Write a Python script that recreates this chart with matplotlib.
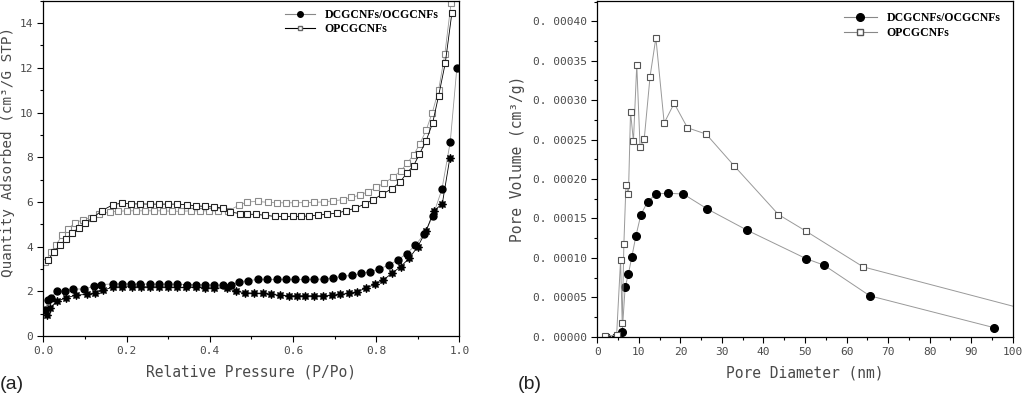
import matplotlib
matplotlib.use("Agg")
from matplotlib import pyplot as plt
from matplotlib.lines import Line2D
from matplotlib.ticker import MultipleLocator, FuncFormatter

# ---- (a) N2 isotherms ----
dc_ads_x = [0.004, 0.012, 0.018, 0.032, 0.052, 0.072, 0.098, 0.122, 0.139, 0.168, 0.188, 0.211,
            0.233, 0.256, 0.278, 0.3, 0.322, 0.345, 0.367, 0.389, 0.411, 0.433, 0.45, 0.471,
            0.493, 0.517, 0.538, 0.561, 0.583, 0.606, 0.629, 0.651, 0.674, 0.697, 0.719,
            0.741, 0.764, 0.786, 0.808, 0.83, 0.852, 0.873, 0.894, 0.916, 0.936, 0.958,
            0.978, 0.994]
dc_ads_y = [1.16, 1.6, 1.7, 2.0, 2.0, 2.1, 2.1, 2.23, 2.3, 2.33, 2.33, 2.33,
            2.33, 2.32, 2.32, 2.32, 2.31, 2.3, 2.3, 2.29, 2.28, 2.27, 2.26, 2.42,
            2.48, 2.53, 2.53, 2.53, 2.53, 2.53, 2.53, 2.53, 2.55, 2.6, 2.67,
            2.71, 2.8, 2.88, 3.0, 3.17, 3.4, 3.68, 4.06, 4.57, 5.35, 6.56,
            8.67, 12.0]

dc_des_x = [0.008, 0.017, 0.032, 0.054, 0.079, 0.106, 0.124, 0.144, 0.168, 0.19, 0.212, 0.234,
            0.256, 0.278, 0.3, 0.322, 0.344, 0.366, 0.388, 0.41, 0.441, 0.463, 0.485,
            0.506, 0.527, 0.548, 0.569, 0.59, 0.61, 0.63, 0.65, 0.672, 0.693, 0.714,
            0.735, 0.755, 0.776, 0.797, 0.817, 0.838, 0.859, 0.88, 0.9, 0.92, 0.939,
            0.959, 0.977]
dc_des_y = [0.93, 1.27, 1.55, 1.7, 1.83, 1.86, 1.92, 2.04, 2.2, 2.2, 2.2, 2.2,
            2.2, 2.2, 2.19, 2.18, 2.17, 2.17, 2.16, 2.15, 2.14, 1.99, 1.94,
            1.91, 1.91, 1.86, 1.82, 1.8, 1.8, 1.8, 1.8, 1.8, 1.82, 1.86,
            1.91, 1.98, 2.15, 2.31, 2.5, 2.81, 3.1, 3.49, 4.0, 4.7, 5.6,
            5.92, 7.95]

op_ads_x = [0.005, 0.018, 0.03, 0.045, 0.06, 0.075, 0.095, 0.115, 0.135, 0.16, 0.18, 0.2,
            0.222, 0.244, 0.266, 0.288, 0.31, 0.332, 0.354, 0.376, 0.398, 0.42, 0.445,
            0.47, 0.49, 0.515, 0.54, 0.562, 0.584, 0.606, 0.628, 0.65, 0.675, 0.697,
            0.72, 0.74, 0.76, 0.78, 0.8, 0.82, 0.84, 0.86, 0.875, 0.89, 0.905, 0.92,
            0.935, 0.95, 0.965, 0.98]
op_ads_y = [3.3, 3.75, 4.05, 4.5, 4.8, 5.05, 5.2, 5.3, 5.45, 5.55, 5.58, 5.6,
            5.6, 5.6, 5.6, 5.6, 5.58, 5.58, 5.6, 5.6, 5.6, 5.58, 5.6,
            5.85, 6.0, 6.02, 5.98, 5.96, 5.96, 5.96, 5.97, 5.98, 6.0, 6.05,
            6.1, 6.2, 6.3, 6.45, 6.65, 6.85, 7.1, 7.4, 7.75, 8.1, 8.6, 9.2,
            10.0, 11.0, 12.6, 14.9]

op_des_x = [0.012, 0.025, 0.04, 0.055, 0.07, 0.085, 0.1, 0.12, 0.14, 0.168, 0.188, 0.211,
            0.233, 0.256, 0.278, 0.3, 0.322, 0.345, 0.367, 0.389, 0.411, 0.433, 0.448,
            0.472, 0.49, 0.512, 0.534, 0.556, 0.578, 0.6, 0.62, 0.638, 0.66, 0.683,
            0.705, 0.728, 0.75, 0.772, 0.793, 0.815, 0.837, 0.857, 0.873, 0.89, 0.904,
            0.92, 0.936, 0.95, 0.966, 0.982]
op_des_y = [3.4, 3.75, 4.05, 4.35, 4.6, 4.85, 5.05, 5.3, 5.6, 5.88, 5.94, 5.91,
            5.91, 5.9, 5.9, 5.9, 5.9, 5.87, 5.82, 5.8, 5.77, 5.72, 5.55,
            5.48, 5.45, 5.44, 5.4, 5.35, 5.35, 5.35, 5.35, 5.37, 5.41, 5.45,
            5.5, 5.6, 5.72, 5.9, 6.1, 6.35, 6.58, 6.87, 7.28, 7.62, 8.14,
            8.73, 9.55, 10.74, 12.2, 14.45]

# ---- (b) pore size distribution ----
dc_d = [2.0, 4.6, 6.0, 6.7, 7.5, 8.3, 9.3, 10.5, 12.1, 14.1, 16.9, 20.7, 26.5, 36.1,
        50.2, 54.6, 65.6, 95.6]
dc_v = [0.0, 0.0, 0.0000063, 0.0000625, 0.00008, 0.000101, 0.000128, 0.000155, 0.000171,
        0.000181, 0.000182, 0.000181, 0.000162, 0.000135, 0.0000992, 0.0000907,
        0.0000519, 0.0000114]

op_d = [1.85, 4.65, 5.6, 6.0, 6.4, 6.9, 7.5, 8.0, 8.7, 9.5, 10.3, 11.3, 12.7, 14.1,
        16.1, 18.5, 21.7, 26.2, 32.9, 43.6, 50.2, 64.0, 110.0]
op_v = [0.0000008, 0.000002, 0.000097, 0.000017, 0.000118, 0.000193, 0.000181, 0.000285,
        0.000248, 0.000345, 0.00024, 0.000251, 0.00033, 0.000379, 0.000271, 0.000296,
        0.000265, 0.000257, 0.000217, 0.000155, 0.000134, 0.0000886, 0.000025]

mono = "DejaVu Sans Mono"
txt_col = "#4a4a4a"
leg_font = {"family": "Liberation Serif", "weight": "bold", "size": 8.5}

fig = plt.figure(figsize=(10.24, 3.99), dpi=100)
ax1 = fig.add_axes([0.0423, 0.158, 0.4063, 0.84])
ax2 = fig.add_axes([0.5833, 0.156, 0.4057, 0.842])

# panel a
ax1.plot(dc_ads_x, dc_ads_y, color="#999999", lw=0.6, marker="o", ms=5,
         mfc="black", mec="black")
ax1.plot(dc_des_x, dc_des_y, color="black", lw=0.6, marker=(8, 1, 0), ms=6,
         mfc="black", mec="black", mew=0.8)
ax1.plot(op_ads_x, op_ads_y, color="#999999", lw=0.6, marker="s", ms=4.7,
         mfc="white", mec="#8a8a8a", mew=0.8)
ax1.plot(op_des_x, op_des_y, color="black", lw=0.6, marker="s", ms=4.7,
         mfc="white", mec="#222222", mew=0.8)
ax1.set_xlim(0, 1.0)
ax1.set_ylim(0, 15)
ax1.xaxis.set_major_locator(MultipleLocator(0.2))
ax1.xaxis.set_minor_locator(MultipleLocator(0.1))
ax1.yaxis.set_major_locator(MultipleLocator(2))
ax1.yaxis.set_minor_locator(MultipleLocator(1))
ax1.xaxis.set_major_formatter(FuncFormatter(lambda v, p: f"{v:.1f}"))
ax1.set_xlabel("Relative Pressure (P/Po)", family=mono, fontsize=10.5,
               color=txt_col, labelpad=6)
ax1.set_ylabel("Quantity Adsorbed (cm³/G STP)", family=mono, fontsize=10.3,
               color=txt_col)
ax1.yaxis.set_label_coords(-0.068, 0.55)
h1 = [Line2D([], [], color="#888888", lw=0.8, marker="o", ms=4, mfc="black", mec="black"),
      Line2D([], [], color="black", lw=0.8, marker="s", ms=3.5, mfc="white", mec="#666666")]
ax1.legend(h1, ["DCGCNFs/OCGCNFs", "OPCGCNFs"], loc="upper right", frameon=False,
           prop=leg_font, handlelength=2.6, borderaxespad=0.3, labelspacing=0.2,
           bbox_to_anchor=(0.97, 1.0))

# panel b
ax2.plot(dc_d, dc_v, color="#999999", lw=0.7, marker="o", ms=5.5,
         mfc="black", mec="black")
ax2.plot(op_d, op_v, color="#999999", lw=0.7, marker="s", ms=5,
         mfc="white", mec="#555555", mew=0.8)
ax2.set_xlim(0, 100)
ax2.set_ylim(0, 0.000426)
ax2.xaxis.set_major_locator(MultipleLocator(10))
ax2.xaxis.set_minor_locator(MultipleLocator(5))
ax2.yaxis.set_major_locator(MultipleLocator(0.00005))
ax2.yaxis.set_minor_locator(MultipleLocator(0.000025))
ax2.yaxis.set_major_formatter(FuncFormatter(lambda v, p: f"{v:.5f}".replace(".", ". ")))
ax2.set_xlabel("Pore Diameter (nm)", family=mono, fontsize=10.5,
               color=txt_col, labelpad=6)
ax2.set_ylabel("Pore Volume (cm³/g)", family=mono, fontsize=10.5,
               color=txt_col)
ax2.yaxis.set_label_coords(-0.175, 0.53)
h2 = [Line2D([], [], color="#888888", lw=0.8, marker="o", ms=5.5, mfc="black", mec="black"),
      Line2D([], [], color="#888888", lw=0.8, marker="s", ms=5, mfc="white", mec="#555555")]
ax2.legend(h2, ["DCGCNFs/OCGCNFs", "OPCGCNFs"], loc="upper right", frameon=False,
           prop=leg_font, handlelength=2.8, borderaxespad=0.3, labelspacing=0.2,
           bbox_to_anchor=(0.99, 0.99))

for ax in (ax1, ax2):
    ax.tick_params(which="both", direction="out", top=False, right=False,
                   labelsize=8, labelcolor=txt_col, width=0.8)
    ax.tick_params(which="major", length=4)
    ax.tick_params(which="minor", length=2.5)
    for lab in ax.get_xticklabels() + ax.get_yticklabels():
        lab.set_family(mono)
    for sp in ax.spines.values():
        sp.set_linewidth(0.9)

fig.text(0.0, 0.025, "(a)", family="Liberation Sans", fontsize=14, color="#222222")
fig.text(0.506, 0.025, "(b)", family="Liberation Sans", fontsize=14, color="#222222")

fig.savefig("out.png", dpi=100)
